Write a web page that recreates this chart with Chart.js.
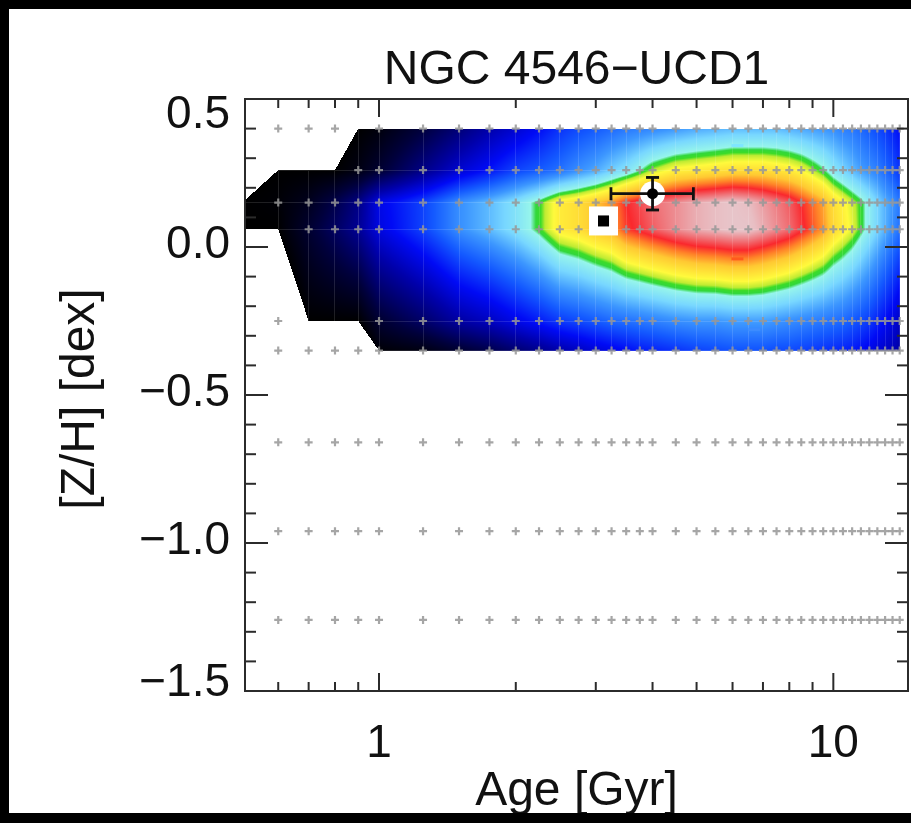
<!DOCTYPE html>
<html lang="en">
<head>
<meta charset="UTF-8">
<title>NGC 4546-UCD1</title>
<script src="https://cdn.jsdelivr.net/npm/chart.js@4"></script>
<style>
body { margin: 0; background: #000; width: 911px; height: 823px; overflow: hidden; }
#panel { position: absolute; left: 9px; top: 9px; width: 902px; height: 804px; background: #fff; }
canvas { display: block; }
</style>
</head>
<body>
<div id="panel"><canvas id="ageMetal" width="902" height="804"></canvas></div>
<script>
// SSP model grid: ages in Gyr
const ages = [0.5, 0.6, 0.7, 0.8, 0.9, 1.0, 1.25, 1.5, 1.75,
  2.0, 2.25, 2.5, 2.75, 3.0, 3.25, 3.5, 3.75, 4.0,
  4.5, 5.0, 5.5, 6.0, 6.5, 7.0, 7.5, 8.0, 8.5, 9.0, 9.5, 10.0,
  10.5, 11.0, 11.5, 12.0, 12.5, 13.0, 13.5, 14.0];
// [Z/H] rows of the model grid
const gridZ = [-1.26, -0.96, -0.66, -0.35, -0.25, 0.06, 0.15, 0.26, 0.40];

// likelihood per grid node (0..1), null = no model there
const mapZ = [-0.35, -0.25, 0.06, 0.15, 0.26, 0.40];
const probZm035 = [null, null, null, null, null, 0.01, 0.03, 0.08, 0.12,
  0.17, 0.21, 0.25, 0.28, 0.31, 0.33, 0.35, 0.37, 0.38,
  0.40, 0.42, 0.43, 0.44, 0.44, 0.44, 0.43, 0.43, 0.42, 0.41, 0.40, 0.39,
  0.38, 0.37, 0.35, 0.33, 0.31, 0.29, 0.27, 0.24];
const probZm025 = [null, null, 0, 0, 0, 0.08, 0.16, 0.24, 0.28,
  0.33, 0.37, 0.41, 0.43, 0.45, 0.47, 0.48, 0.49, 0.50,
  0.52, 0.53, 0.53, 0.54, 0.54, 0.54, 0.53, 0.52, 0.51, 0.50, 0.49, 0.48,
  0.47, 0.45, 0.43, 0.41, 0.38, 0.35, 0.32, 0.28];
const probZp006 = [0, 0, 0.08, 0.15, 0.22, 0.32, 0.42, 0.52, 0.57,
  0.62, 0.68, 0.75, 0.77, 0.80, 0.82, 0.87, 0.89, 0.91,
  0.94, 0.96, 0.97, 0.98, 0.98, 0.96, 0.94, 0.92, 0.89, 0.86, 0.83, 0.78,
  0.75, 0.72, 0.68, 0.64, 0.60, 0.56, 0.52, 0.48];
const probZp015 = [0, 0.01, 0.05, 0.12, 0.20, 0.33, 0.42, 0.52, 0.57,
  0.62, 0.68, 0.75, 0.77, 0.80, 0.83, 0.88, 0.90, 0.92,
  0.94, 0.96, 0.97, 0.98, 0.97, 0.95, 0.93, 0.91, 0.88, 0.85, 0.82, 0.77,
  0.74, 0.71, 0.68, 0.64, 0.60, 0.56, 0.53, 0.49];
const probZp026 = [null, 0, 0, 0, 0.03, 0.08, 0.20, 0.30, 0.36,
  0.42, 0.45, 0.48, 0.52, 0.55, 0.59, 0.62, 0.66, 0.70,
  0.74, 0.75, 0.76, 0.77, 0.77, 0.77, 0.76, 0.75, 0.73, 0.70, 0.67, 0.63,
  0.60, 0.57, 0.54, 0.52, 0.50, 0.47, 0.44, 0.40];
const probZp040 = [null, null, null, null, 0, 0.02, 0.10, 0.18, 0.25,
  0.30, 0.35, 0.40, 0.43, 0.45, 0.47, 0.49, 0.50, 0.51,
  0.53, 0.55, 0.56, 0.57, 0.57, 0.57, 0.57, 0.56, 0.55, 0.54, 0.53, 0.52,
  0.50, 0.49, 0.47, 0.45, 0.43, 0.41, 0.38, 0.35];
const mapRows = [probZm035, probZm025, probZp006, probZp015, probZp026, probZp040];

// measured age / metallicity with errors
const fitAge = 4.0, fitAgeLo = 3.24, fitAgeHi = 4.92;
const fitZ = 0.18, fitZLo = 0.125, fitZHi = 0.235;
// best grid solution
const bestAge = 3.12, bestZ = 0.088;
// small contour marks
const dashAges = [6.15, 6.15, 6.7];
const dashZ = [0.343, -0.04, -0.279];

// axes
const xMin = 0.507, xMax = 14.6;
const yMin = -1.5, yMax = 0.5;
const xMajor = [1, 10];
const xMajorLabels = ['1', '10'];
const xMinor = [0.6, 0.7, 0.8, 0.9, 2, 3, 4, 5, 6, 7, 8, 9];
const yMajor = [0.5, 0.0, -0.5, -1.0, -1.5];
const yMajorLabels = ['0.5', '0.0', '\u22120.5', '\u22121.0', '\u22121.5'];
const yMinor = [0.4, 0.3, 0.2, 0.1, -0.1, -0.2, -0.3, -0.4, -0.6, -0.7, -0.8, -0.9,
  -1.1, -1.2, -1.3, -1.4];

const colorStops = [
  [0.00, 0, 0, 0],
  [0.10, 0, 0, 60],
  [0.25, 0, 0, 170],
  [0.35, 0, 10, 245],
  [0.45, 20, 90, 255],
  [0.53, 60, 150, 255],
  [0.60, 120, 215, 255],
  [0.658, 150, 245, 235],
  [0.672, 50, 215, 60],
  [0.686, 60, 220, 40],
  [0.70, 190, 235, 50],
  [0.73, 255, 250, 60],
  [0.80, 255, 200, 50],
  [0.84, 255, 130, 40],
  [0.88, 250, 40, 45],
  [0.92, 240, 110, 115],
  [0.97, 232, 190, 195],
  [1.00, 230, 210, 215]
];

function mapColor(v) {
  if (v <= 0) return colorStops[0].slice(1);
  for (let k = 1; k < colorStops.length; k++) {
    const b = colorStops[k];
    if (v <= b[0]) {
      const a = colorStops[k - 1];
      const f = (v - a[0]) / (b[0] - a[0]);
      return [a[1] + (b[1] - a[1]) * f, a[2] + (b[2] - a[2]) * f, a[3] + (b[3] - a[3]) * f];
    }
  }
  return colorStops[colorStops.length - 1].slice(1);
}

// linear interpolation inside a grid cell; cells with one missing
// corner are cut along the diagonal (triangulated edge)
function cellValue(i, j, t, u) {
  const lo = mapRows[i], hi = mapRows[i + 1];
  const c = [lo[j], lo[j + 1], hi[j], hi[j + 1]];
  let missing = -1, n = 0;
  for (let k = 0; k < 4; k++) if (c[k] === null) { missing = k; n++; }
  if (n === 0) {
    return (c[0] * (1 - t) + c[1] * t) * (1 - u) + (c[2] * (1 - t) + c[3] * t) * u;
  }
  if (n > 1) return null;
  const a0 = missing & 1, b0 = missing >> 1;
  const p = Math.abs(t - a0), q = Math.abs(u - b0);
  if (p + q < 1) return null;
  const vA = c[(1 - a0) | (b0 << 1)];
  const vB = c[a0 | ((1 - b0) << 1)];
  const vC = c[(1 - a0) | ((1 - b0) << 1)];
  return vA + vB - vC + (vC - vB) * p + (vC - vA) * q;
}

const likelihoodMap = {
  id: 'likelihoodMap',
  beforeDatasetsDraw(chart) {
    const { ctx, chartArea: area, scales: { x, y } } = chart;
    const w = Math.round(area.right - area.left), h = Math.round(area.bottom - area.top);
    const off = document.createElement('canvas');
    off.width = w; off.height = h;
    const octx = off.getContext('2d');
    const img = octx.createImageData(w, h);
    const logAges = ages.map(Math.log10);

    const cols = [];
    for (let px = 0; px < w; px++) {
      const la = Math.log10(x.getValueForPixel(area.left + px + 0.5));
      let cell = null;
      for (let k = 0; k < ages.length - 1; k++) {
        if (la >= logAges[k] && la <= logAges[k + 1]) {
          cell = { j: k, t: (la - logAges[k]) / (logAges[k + 1] - logAges[k]) };
          break;
        }
      }
      cols.push(cell);
    }
    const rows = [];
    for (let py = 0; py < h; py++) {
      const z = y.getValueForPixel(area.top + py + 0.5);
      let cell = null;
      for (let k = 0; k < mapZ.length - 1; k++) {
        if (z >= mapZ[k] && z <= mapZ[k + 1]) {
          cell = { i: k, u: (z - mapZ[k]) / (mapZ[k + 1] - mapZ[k]) };
          break;
        }
      }
      rows.push(cell);
    }
    // faint lines along the model grid
    const lineCols = new Set(ages.map(a => Math.round(x.getPixelForValue(a) - area.left - 0.5)));
    const lineRows = new Set(mapZ.map(z => Math.round(y.getPixelForValue(z) - area.top - 0.5)));

    for (let py = 0; py < h; py++) {
      const r = rows[py];
      if (!r) continue;
      for (let px = 0; px < w; px++) {
        const c = cols[px];
        if (!c) continue;
        const v = cellValue(r.i, c.j, c.t, r.u);
        if (v === null) continue;
        let [R, G, B] = mapColor(v);
        if (lineCols.has(px) || lineRows.has(py)) {
          R += (255 - R) * 0.12; G += (255 - G) * 0.12; B += (255 - B) * 0.12;
        }
        const o = (py * w + px) * 4;
        img.data[o] = R; img.data[o + 1] = G; img.data[o + 2] = B; img.data[o + 3] = 255;
      }
    }
    octx.putImageData(img, 0, 0);
    ctx.save();
    ctx.filter = 'blur(0.7px)';
    ctx.drawImage(off, area.left, area.top);
    ctx.restore();
  }
};

const frameAxes = {
  id: 'frameAxes',
  afterDraw(chart) {
    const { ctx, chartArea: a, scales: { x, y } } = chart;
    const seg = (x0, y0, x1, y1) => { ctx.beginPath(); ctx.moveTo(x0, y0); ctx.lineTo(x1, y1); ctx.stroke(); };
    ctx.save();
    ctx.strokeStyle = '#2b2b2b';
    ctx.lineWidth = 2;
    ctx.strokeRect(a.left, a.top, a.right - a.left, a.bottom - a.top);
    xMinor.forEach(v => { const p = x.getPixelForValue(v); seg(p, a.bottom, p, a.bottom - 9); seg(p, a.top, p, a.top + 9); });
    xMajor.forEach(v => { const p = x.getPixelForValue(v); seg(p, a.bottom, p, a.bottom - 18); seg(p, a.top, p, a.top + 18); });
    yMinor.forEach(v => { const p = y.getPixelForValue(v); seg(a.left, p, a.left + 11, p); seg(a.right, p, a.right - 11, p); });
    yMajor.forEach(v => { const p = y.getPixelForValue(v); seg(a.left, p, a.left + 23, p); seg(a.right, p, a.right - 23, p); });

    ctx.fillStyle = '#111';
    ctx.font = '46px "Liberation Sans", Arial, sans-serif';
    ctx.textAlign = 'right';
    ctx.textBaseline = 'middle';
    yMajor.forEach((v, k) => {
      const p = Math.min(Math.max(y.getPixelForValue(v) - 2, a.top + 16), a.bottom - 8);
      ctx.fillText(yMajorLabels[k], a.left - 15, p);
    });
    ctx.textAlign = 'center';
    ctx.textBaseline = 'alphabetic';
    xMajor.forEach((v, k) => ctx.fillText(xMajorLabels[k], x.getPixelForValue(v), 748));
    const cx = (a.left + a.right) / 2;
    ctx.font = '48px "Liberation Sans", Arial, sans-serif';
    ctx.fillText('Age [Gyr]', cx, 796);
    ctx.fillText('NGC 4546\u2212UCD1', cx, 75);
    ctx.translate(72, 390);
    ctx.rotate(-Math.PI / 2);
    ctx.textBaseline = 'middle';
    ctx.fillText('[Z/H] [dex]', 0, 0);
    ctx.restore();
  }
};

const gridPoints = [];
gridZ.forEach(z => {
  const r = mapZ.indexOf(z);
  ages.forEach((a, j) => {
    if (a < xMin) return;
    if (r >= 0 && mapRows[r][j] === 0) return;
    gridPoints.push({ x: a, y: z });
  });
});

const dashColors = ['#7fe6ff', '#ff5a1e', '#3c8cff'];

new Chart(document.getElementById('ageMetal'), {
  type: 'scatter',
  data: {
    datasets: [
      { // model grid
        data: gridPoints, order: 20,
        pointStyle: 'cross', pointRadius: 4, pointBorderWidth: 2.2,
        pointBorderColor: 'rgba(150,150,150,0.85)'
      },
      {
        data: dashAges.map((a, k) => ({ x: a, y: dashZ[k] })), order: 15,
        pointStyle: 'line', pointRadius: 6, pointBorderWidth: 3,
        pointBorderColor: dashColors
      },
      { // best grid solution: white box
        data: [{ x: bestAge, y: bestZ }], order: 12,
        pointStyle: 'rect', pointRadius: 20.5, pointBorderWidth: 0,
        pointBackgroundColor: '#fff'
      },
      {
        data: [{ x: bestAge, y: bestZ }], order: 11,
        pointStyle: 'rect', pointRadius: 7.8, pointBorderWidth: 0,
        pointBackgroundColor: '#000'
      },
      { // halo behind the measurement
        data: [{ x: fitAge, y: fitZ }], order: 10,
        pointRadius: 12.5, pointBorderWidth: 0, pointBackgroundColor: '#fff'
      },
      { // age error bar
        data: [{ x: fitAgeLo, y: fitZ }, { x: fitAgeHi, y: fitZ }], order: 8,
        showLine: true, borderColor: '#111', borderWidth: 2.8,
        pointStyle: 'line', pointRotation: 90, pointRadius: 6.5,
        pointBorderWidth: 2.8, pointBorderColor: '#111'
      },
      { // [Z/H] error bar
        data: [{ x: fitAge, y: fitZLo }, { x: fitAge, y: fitZHi }], order: 7,
        showLine: true, borderColor: '#111', borderWidth: 2.8,
        pointStyle: 'line', pointRotation: 0, pointRadius: 6.5,
        pointBorderWidth: 2.8, pointBorderColor: '#111'
      },
      {
        data: [{ x: fitAge, y: fitZ }], order: 1,
        pointRadius: 5.5, pointBorderWidth: 0, pointBackgroundColor: '#000'
      }
    ]
  },
  options: {
    responsive: false,
    animation: false,
    events: [],
    layout: { autoPadding: false, padding: { left: 236, top: 90, right: 3, bottom: 122 } },
    plugins: { legend: { display: false }, tooltip: { enabled: false } },
    scales: {
      x: { type: 'logarithmic', min: xMin, max: xMax, display: false },
      y: { type: 'linear', min: yMin, max: yMax, display: false }
    }
  },
  plugins: [likelihoodMap, frameAxes]
});
</script>
</body>
</html>
